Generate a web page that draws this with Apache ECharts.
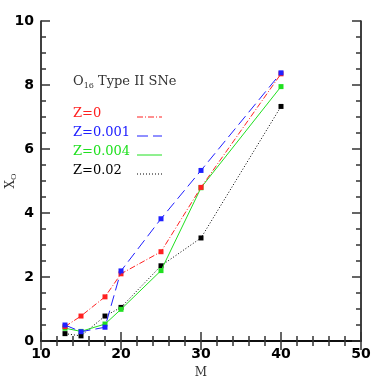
<!DOCTYPE html>
<html>
<head>
<meta charset="utf-8">
<script src="https://cdn.jsdelivr.net/npm/echarts@6/dist/echarts.min.js"></script>
<style>
  html, body { margin: 0; padding: 0; background: #fff; }
  #chart { width: 382px; height: 382px; }
</style>
</head>
<body>
<div id="chart"></div>
<script>
// masses
var masses = [13, 15, 18, 20, 25, 30, 40];
// X_O for each metallicity
var z0 = [0.45, 0.78, 1.38, 2.1, 2.79, 4.8, 8.35];
var z0001 = [0.5, 0.29, 0.43, 2.19, 3.82, 5.33, 8.38];
var z0004 = [0.4, 0.3, 0.53, 0.99, 2.2, 4.79, 7.95];
var z002 = [0.23, 0.16, 0.78, 1.05, 2.35, 3.22, 7.33];

var seriesNames = ["Z=0", "Z=0.001", "Z=0.004", "Z=0.02"];
var seriesData = [z0, z0001, z0004, z002];
var colors = ["#ff2020", "#2020ff", "#20e020", "#000000"];
var lineTypes = [[6, 2, 1, 2], [11, 5], "solid", [1, 2]];

var chartDom = document.getElementById("chart");
var myChart = echarts.init(chartDom);

function pairs(ys) {
  var out = [];
  for (var i = 0; i < masses.length; i++) {
    out.push([masses[i], ys[i]]);
  }
  return out;
}

var series = [];
for (var i = 0; i < seriesData.length; i++) {
  series.push({
    name: seriesNames[i],
    type: "line",
    data: pairs(seriesData[i]),
    symbol: "rect",
    symbolSize: 5,
    showAllSymbol: true,
    lineStyle: { color: colors[i], width: 1, type: lineTypes[i] },
    itemStyle: { color: colors[i] },
    z: 10 - i,
  });
}
// blue above the others near start
series[1].z = 12;

var tickFont = {
  color: "#000",
  fontFamily: "DejaVu Sans",
  fontWeight: "bold",
  fontSize: 14,
};

var axisCommon = {
  axisLine: { lineStyle: { color: "#000", width: 1.5 } },
  splitLine: { show: false },
  axisTick: { inside: true, length: 9, lineStyle: { color: "#333", width: 1.5 } },
  minorTick: { show: true, length: 5, lineStyle: { color: "#333", width: 1.5 } },
};

// legend built from graphic elements (text left, line sample right)
var graphics = [
  {
    type: "text",
    left: 73,
    top: 75,
    style: {
      text: "O{s|16} Type II SNe",
      rich: { s: { fontSize: 8, padding: [8, 0, 0, 0], fontFamily: "DejaVu Serif", fill: "#333" } },
      fontFamily: "DejaVu Serif",
      fontSize: 13,
      fill: "#333",
    },
  },
];
for (var j = 0; j < seriesNames.length; j++) {
  graphics.push({
    type: "text",
    left: 73,
    top: 107 + j * 19,
    style: {
      text: seriesNames[j],
      fontFamily: "DejaVu Serif",
      fontSize: 13,
      fill: colors[j],
    },
  });
  graphics.push({
    type: "line",
    shape: { x1: 137, y1: 117 + j * 19, x2: 162, y2: 117 + j * 19 },
    style: { stroke: colors[j], lineWidth: 1, lineDash: lineTypes[j] === "solid" ? null : lineTypes[j] },
  });
}

var option = {
  animation: false,
  backgroundColor: "#fff",
  grid: { left: 41, right: 21, top: 21, bottom: 41, containLabel: false, outerBoundsMode: "none" },
  xAxis: [
    Object.assign({}, axisCommon, {
      type: "value",
      min: 10,
      max: 50,
      interval: 10,
      minorTick: Object.assign({}, axisCommon.minorTick, { splitNumber: 5 }),
      axisLabel: Object.assign({ margin: 6 }, tickFont),
      name: "M",
      nameLocation: "middle",
      nameGap: 26,
      nameMoveOverlap: false,
      nameTextStyle: { fontFamily: "DejaVu Serif", fontSize: 12, color: "#333" },
    }),
    Object.assign({}, axisCommon, {
      type: "value",
      position: "top",
      min: 10,
      max: 50,
      interval: 10,
      minorTick: Object.assign({}, axisCommon.minorTick, { splitNumber: 5 }),
      axisLabel: { show: false },
    }),
  ],
  yAxis: [
    Object.assign({}, axisCommon, {
      type: "value",
      min: 0,
      max: 10,
      interval: 2,
      minorTick: Object.assign({}, axisCommon.minorTick, { splitNumber: 4 }),
      axisLabel: Object.assign({ margin: 7 }, tickFont),
      name: "X{s|O}",
      nameLocation: "middle",
      nameRotate: 90,
      nameGap: 23,
      nameMoveOverlap: false,
      nameTextStyle: {
        fontFamily: "DejaVu Serif",
        fontSize: 12,
        color: "#333",
        rich: { s: { fontSize: 8, padding: [6, 0, 0, 0], fontFamily: "DejaVu Serif", color: "#333" } },
      },
    }),
    Object.assign({}, axisCommon, {
      type: "value",
      position: "right",
      min: 0,
      max: 10,
      interval: 2,
      minorTick: Object.assign({}, axisCommon.minorTick, { splitNumber: 4 }),
      axisLabel: { show: false },
    }),
  ],
  graphic: graphics,
  series: series,
};

if (option && typeof option === "object") {
  myChart.setOption(option);
}
</script>
</body>
</html>
